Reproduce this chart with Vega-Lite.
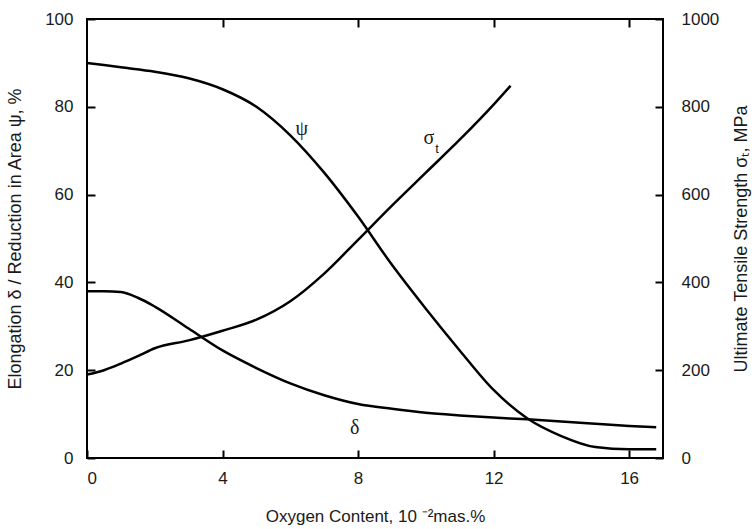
{
  "$schema": "https://vega.github.io/schema/vega-lite/v6.json",
  "width": 576,
  "height": 439,
  "autosize": {"type": "none"},
  "padding": {"left": 87, "top": 19, "right": 93, "bottom": 71},
  "background": "white",
  "config": {
    "font": "Liberation Sans",
    "view": {"stroke": "black", "strokeWidth": 2},
    "axis": {
      "grid": false,
      "ticks": true,
      "domain": false,
      "zindex": 1,
      "tickColor": "black",
      "tickWidth": 2,
      "tickSize": 8,
      "offset": -8,
      "labelFont": "Liberation Sans",
      "labelFontSize": 17,
      "labelColor": "#1a1a1a",
      "titleFont": "Liberation Sans",
      "titleFontSize": 18,
      "titleFontWeight": "normal",
      "titleColor": "#1a1a1a"
    }
  },
  "datasets": {
    "curves": [
      {"s": "psi", "x": 0, "v": 90},
      {"s": "psi", "x": 1, "v": 89},
      {"s": "psi", "x": 2, "v": 88},
      {"s": "psi", "x": 3, "v": 86.5},
      {"s": "psi", "x": 4, "v": 84},
      {"s": "psi", "x": 5, "v": 80},
      {"s": "psi", "x": 6, "v": 73.5},
      {"s": "psi", "x": 7, "v": 65},
      {"s": "psi", "x": 8, "v": 55},
      {"s": "psi", "x": 9, "v": 44},
      {"s": "psi", "x": 10, "v": 34},
      {"s": "psi", "x": 11, "v": 24.5},
      {"s": "psi", "x": 12, "v": 15.5},
      {"s": "psi", "x": 13, "v": 9},
      {"s": "psi", "x": 14, "v": 5},
      {"s": "psi", "x": 15, "v": 2.5},
      {"s": "psi", "x": 16, "v": 2},
      {"s": "psi", "x": 16.8, "v": 2},
      {"s": "delta", "x": 0, "v": 38},
      {"s": "delta", "x": 0.5, "v": 38},
      {"s": "delta", "x": 1, "v": 37.8},
      {"s": "delta", "x": 1.5, "v": 36.5},
      {"s": "delta", "x": 2, "v": 34.5},
      {"s": "delta", "x": 3, "v": 29.5},
      {"s": "delta", "x": 4, "v": 24.5},
      {"s": "delta", "x": 5, "v": 20.5},
      {"s": "delta", "x": 6, "v": 17},
      {"s": "delta", "x": 7, "v": 14.3},
      {"s": "delta", "x": 8, "v": 12.3},
      {"s": "delta", "x": 9, "v": 11.2},
      {"s": "delta", "x": 10, "v": 10.3},
      {"s": "delta", "x": 11, "v": 9.7},
      {"s": "delta", "x": 12, "v": 9.2},
      {"s": "delta", "x": 13, "v": 8.8},
      {"s": "delta", "x": 14, "v": 8.3},
      {"s": "delta", "x": 15, "v": 7.8},
      {"s": "delta", "x": 16, "v": 7.3},
      {"s": "delta", "x": 16.8, "v": 7}
    ],
    "sigma": [
      {"x": 0, "v": 190},
      {"x": 0.5, "v": 200},
      {"x": 1, "v": 215},
      {"x": 1.5, "v": 232},
      {"x": 2, "v": 250},
      {"x": 3, "v": 268},
      {"x": 4, "v": 290},
      {"x": 5, "v": 315},
      {"x": 6, "v": 357},
      {"x": 7, "v": 420},
      {"x": 8, "v": 497},
      {"x": 9, "v": 575},
      {"x": 10, "v": 650},
      {"x": 11, "v": 725},
      {"x": 12, "v": 805},
      {"x": 12.5, "v": 848}
    ],
    "labels": [
      {"t": "ψ", "x": 6.34, "v": 74.9},
      {"t": "σ", "x": 10.09, "v": 72.9},
      {"t": "δ", "x": 7.9, "v": 6.8}
    ],
    "subs": [
      {"t": "t", "x": 10.33, "v": 70.4}
    ]
  },
  "layer": [
    {
      "layer": [
        {
          "data": {"name": "curves"},
          "mark": {"type": "line", "interpolate": "monotone", "color": "black", "strokeWidth": 2.5},
          "encoding": {
            "x": {
              "field": "x", "type": "quantitative",
              "scale": {"domain": [0, 17], "nice": false},
              "axis": {"orient": "bottom", "values": [0, 4, 8, 12, 16], "title": "Oxygen Content, 10 ⁻²mas.%", "labelPadding": 12, "titlePadding": 22, "labelFontSize": 17, "titleFontSize": 17, "tickSize": 8, "offset": -8, "domain": false, "ticks": true, "zindex": 1}
            },
            "y": {
              "field": "v", "type": "quantitative",
              "scale": {"domain": [0, 100], "nice": false},
              "axis": {"orient": "left", "values": [0, 20, 40, 60, 80, 100], "title": "Elongation δ / Reduction in Area ψ, %", "labelPadding": 14, "titlePadding": 20, "labelFontSize": 17, "titleFontSize": 18, "tickSize": 8, "offset": -8, "domain": false, "ticks": true, "zindex": 1}
            },
            "detail": {"field": "s"}
          }
        },
        {
          "data": {"name": "labels"},
          "mark": {"type": "text", "font": "Liberation Serif", "fontSize": 20, "baseline": "middle", "align": "center", "color": "#1a1a1a"},
          "encoding": {
            "x": {
              "field": "x", "type": "quantitative",
              "axis": {"orient": "bottom", "values": [0, 4, 8, 12, 16], "title": "Oxygen Content, 10 ⁻²mas.%", "labelPadding": 12, "titlePadding": 22, "labelFontSize": 17, "titleFontSize": 17, "tickSize": 8, "offset": -8, "domain": false, "ticks": true, "zindex": 1}
            },
            "y": {
              "field": "v", "type": "quantitative",
              "axis": {"orient": "left", "values": [0, 20, 40, 60, 80, 100], "title": "Elongation δ / Reduction in Area ψ, %", "labelPadding": 14, "titlePadding": 20, "labelFontSize": 17, "titleFontSize": 18, "tickSize": 8, "offset": -8, "domain": false, "ticks": true, "zindex": 1}
            },
            "text": {"field": "t"}
          }
        },
        {
          "data": {"name": "subs"},
          "mark": {"type": "text", "font": "Liberation Sans", "fontSize": 13, "baseline": "middle", "align": "center", "color": "#1a1a1a"},
          "encoding": {
            "x": {
              "field": "x", "type": "quantitative",
              "axis": {"orient": "bottom", "values": [0, 4, 8, 12, 16], "title": "Oxygen Content, 10 ⁻²mas.%", "labelPadding": 12, "titlePadding": 22, "labelFontSize": 17, "titleFontSize": 17, "tickSize": 8, "offset": -8, "domain": false, "ticks": true, "zindex": 1}
            },
            "y": {
              "field": "v", "type": "quantitative",
              "axis": {"orient": "left", "values": [0, 20, 40, 60, 80, 100], "title": "Elongation δ / Reduction in Area ψ, %", "labelPadding": 14, "titlePadding": 20, "labelFontSize": 17, "titleFontSize": 18, "tickSize": 8, "offset": -8, "domain": false, "ticks": true, "zindex": 1}
            },
            "text": {"field": "t"}
          }
        }
      ]
    },
    {
      "data": {"name": "sigma"},
      "mark": {"type": "line", "interpolate": "monotone", "color": "black", "strokeWidth": 2.5},
      "encoding": {
        "x": {
          "field": "x", "type": "quantitative",
          "axis": {"orient": "top", "values": [4, 8, 12, 16], "labels": false, "title": null, "domain": false, "tickSize": 8, "offset": -8, "ticks": true, "zindex": 1}
        },
        "y": {
          "field": "v", "type": "quantitative",
          "scale": {"domain": [0, 1000], "nice": false},
          "axis": {"orient": "right", "values": [0, 200, 400, 600, 800, 1000], "format": "d", "title": "Ultimate Tensile Strength σₜ, MPa", "titleAngle": 270, "labelPadding": 18, "titlePadding": 32, "labelFontSize": 17, "titleFontSize": 18, "tickSize": 8, "offset": -8, "domain": false, "ticks": true, "zindex": 1}
        }
      }
    }
  ],
  "resolve": {"scale": {"y": "independent"}, "axis": {"x": "independent"}}
}
